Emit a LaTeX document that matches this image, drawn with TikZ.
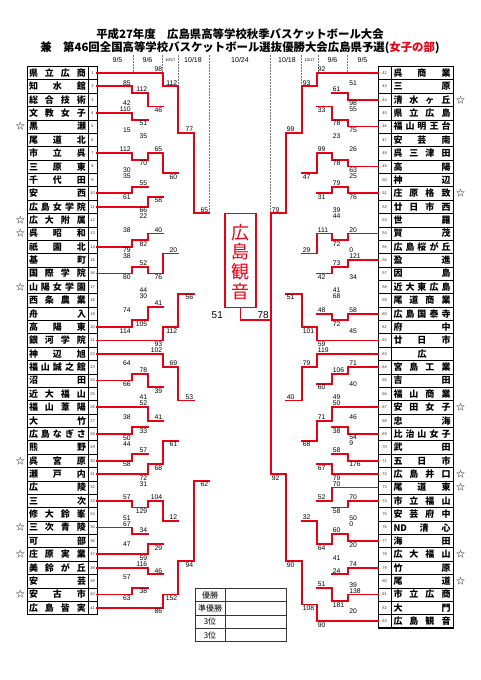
\documentclass[tikz,border=0pt]{standalone}
\usepackage{fontspec}
\setmainfont{Liberation Sans}
\newfontfamily\jp{Noto Sans CJK JP}
\definecolor{bred}{RGB}{232,0,20}
\definecolor{lgray}{RGB}{120,120,120}
\pgfdeclarelayer{bg}
\pgfsetlayers{bg,main}
\newif\ifleft
\def\Yr#1{(73+13.37*((#1)-1))}
\def\Xc#1{\ifleft\ifcase#1 97\or131.7\or148.3\or163.3\or178.3\or194.3\or209.3\fi\else\ifcase#1 378\or348.3\or331.7\or316.7\or301.7\or285.7\or270.7\fi\fi}
\def\winname{win}
\def\gp{\hfill}
\newcounter{lab}
\newcommand\seg[5]{\ifx#1\winname\draw[win] ({#2},{#3}) -- ({#4},{#5});\else\begin{pgfonlayer}{bg}\draw[lose] ({#2},{#3}) -- ({#4},{#5});\end{pgfonlayer}\fi}
\newcommand\M[9]{%
 \edef\xj{\Xc{#1}}\edef\xt{\Xc{#2}}\edef\xb{\Xc{#4}}%
 \pgfmathsetmacro\yt{73+13.37*(#3-1)}%
 \pgfmathsetmacro\yb{73+13.37*(#5-1)}%
 \pgfmathsetmacro\yo{73+13.37*(#6-1)}%
 \ifnum#2=0 \ifnum#7=1 \def\tst{win}\else\def\tst{lose}\fi\else\def\tst{win}\fi
 \ifnum#4=0 \ifnum#7=2 \def\bst{win}\else\def\bst{lose}\fi\else\def\bst{win}\fi
 \ifcase#7 \def\vts{lose}\def\vbs{lose}\or\def\vts{win}\def\vbs{lose}\or\def\vts{lose}\def\vbs{win}\or\def\vts{win}\def\vbs{win}\fi
 \seg\tst{\xt}{\yt}{\xj}{\yt}%
 \seg\bst{\xb}{\yb}{\xj}{\yb}%
 \seg\vts{\xj}{\yt}{\xj}{\yo}%
 \seg\vbs{\xj}{\yo}{\xj}{\yb}%
 \stepcounter{lab}%
 \ifleft
  \node[sc,anchor=south east] (s\arabic{lab}) at ({\xj-0.9},{\yt-1.1}) {#8};%
  \stepcounter{lab}%
  \node[sc,anchor=north east] (s\arabic{lab}) at ({\xj-0.9},{\yb+1.1}) {#9};%
 \else
  \node[sc,anchor=south west] (s\arabic{lab}) at ({\xj+0.9},{\yt-1.1}) {#8};%
  \stepcounter{lab}%
  \node[sc,anchor=north west] (s\arabic{lab}) at ({\xj+0.9},{\yb+1.1}) {#9};%
 \fi}
\begin{document}
\begin{tikzpicture}[x=1pt,y=-1pt,
  win/.style={draw=bred,line width=1.8pt,line cap=rect},
  lose/.style={draw=lgray,line width=0.8pt},
  sc/.style={font=\fontsize{6.8}{6.8}\selectfont,inner sep=0pt},
  dsh/.style={draw=lgray,line width=0.6pt,dash pattern=on 1.6pt off 1.4pt},
  nm/.style={font=\jp\bfseries\fontsize{9}{9}\selectfont,inner sep=0pt},
  num/.style={font=\fontsize{4}{4}\selectfont,inner sep=0pt,text=black!80},
  rowln/.style={draw=black,line width=0.5pt},
  st/.style={font=\jp\fontsize{9}{9}\selectfont,inner sep=0pt},
  dt/.style={font=\fontsize{7}{7}\selectfont,inner sep=0pt},
  dts/.style={font=\fontsize{4}{4}\selectfont,inner sep=0pt},
  ttl/.style={font=\jp\bfseries\fontsize{11.4}{12}\selectfont,inner sep=0pt}]
\useasboundingbox (0,0) rectangle (481,680);
\fill[white] (0,0) rectangle (481,680);
% titles
\node[ttl] (t1) at (240,34) {平成27年度　広島県高等学校秋季バスケットボール大会};
\node[ttl] (t2) at (240,48) {兼　第46回全国高等学校バスケットボール選抜優勝大会広島県予選(\textcolor{bred}{女子の部})};
% dates
\node[dt] (d1) at (117.5,60) {9/5};
\node[dt] (d2) at (147.5,60) {9/6};
\node[dts] (d3) at (170.3,60) {10/17};
\node[dt] (d4) at (193,60) {10/18};
\node[dt] (d5) at (240,60) {10/24};
\node[dt] (d6) at (287,60) {10/18};
\node[dts] (d7) at (309.7,60) {10/17};
\node[dt] (d8) at (332.5,60) {9/6};
\node[dt] (d9) at (362.5,60) {9/5};
\draw[dsh] (133,55) -- (133,{\Yr{1}});
\draw[dsh] (162,55) -- (162,{\Yr{1}});
\draw[dsh] (178.5,55) -- (178.5,{\Yr{2}});
\draw[dsh] (209.5,55) -- (209.5,{\Yr{11.5}});
\draw[dsh] (347,55) -- (347,{\Yr{1}});
\draw[dsh] (318,55) -- (318,{\Yr{1}});
\draw[dsh] (301.5,55) -- (301.5,{\Yr{2}});
\draw[dsh] (270.5,55) -- (270.5,{\Yr{11.5}});
% left team list
\foreach \nmx [count=\k] in {{県\gp 立\gp 広\gp 商},{知\gp 水\gp 館},{総\gp 合\gp 技\gp 術},{文\gp 教\gp 女\gp 子},{黒\gp 瀬},{尾\gp 道\gp 北},{市\gp 立\gp 呉},{三\gp 原\gp 東},{千\gp 代\gp 田},{安\gp 西},{広\gp 島\gp 女\gp 学\gp 院},{広\gp 大\gp 附\gp 属},{呉\gp 昭\gp 和},{祇\gp 園\gp 北},{基\gp 町},{国\gp 際\gp 学\gp 院},{山\gp 陽\gp 女\gp 学\gp 園},{西\gp 条\gp 農\gp 業},{舟\gp 入},{高\gp 陽\gp 東},{銀\gp 河\gp 学\gp 院},{神\gp 辺\gp 旭},{福\gp 山\gp 誠\gp 之\gp 館},{沼\gp 田},{近\gp 大\gp 福\gp 山},{福\gp 山\gp 葦\gp 陽},{大\gp 竹},{広\gp 島\gp な\gp ぎ\gp さ},{熊\gp 野},{呉\gp 宮\gp 原},{瀬\gp 戸\gp 内},{広\gp 陵},{三\gp 次},{修\gp 大\gp 鈴\gp 峯},{三\gp 次\gp 青\gp 陵},{可\gp 部},{庄\gp 原\gp 実\gp 業},{美\gp 鈴\gp が\gp 丘},{安\gp 芸},{安\gp 古\gp 市},{広\gp 島\gp 皆\gp 実}}{
  \draw[rowln] (27,{\Yr{\k}-6.685}) rectangle (97,{\Yr{\k}+6.685});
  \draw[rowln] (88,{\Yr{\k}-6.685}) -- (88,{\Yr{\k}+6.685});
  \node[nm] (L\k) at (57.5,{\Yr{\k}}) {\hbox to 57pt{\nmx}};
  \node[num] (LN\k) at (92.5,{\Yr{\k}}) {\k};
}
\draw[draw=black,line width=0.9pt] (27,{\Yr{1}-6.685}) rectangle (97,{\Yr{41}+6.685});
% right team list
\foreach \nmx [count=\k, evaluate=\k as \jj using int(\k+41)] in {{呉\gp 商\gp 業},{三\gp 原},{清\gp 水\gp ヶ\gp 丘},{県\gp 立\gp 広\gp 島},{福\gp 山\gp 明\gp 王\gp 台},{安\gp 芸\gp 南},{呉\gp 三\gp 津\gp 田},{高\gp 陽},{神\gp 辺},{庄\gp 原\gp 格\gp 致},{廿\gp 日\gp 市\gp 西},{世\gp 羅},{賀\gp 茂},{広\gp 島\gp 桜\gp が\gp 丘},{盈\gp 進},{因\gp 島},{近\gp 大\gp 東\gp 広\gp 島},{尾\gp 道\gp 商\gp 業},{広\gp 島\gp 国\gp 泰\gp 寺},{府\gp 中},{廿\gp 日\gp 市},{\hfil 広\hfil},{宮\gp 島\gp 工\gp 業},{吉\gp 田},{福\gp 山\gp 商\gp 業},{安\gp 田\gp 女\gp 子},{忠\gp 海},{比\gp 治\gp 山\gp 女\gp 子},{武\gp 田},{五\gp 日\gp 市},{広\gp 島\gp 井\gp 口},{尾\gp 道\gp 東},{市\gp 立\gp 福\gp 山},{安\gp 芸\gp 府\gp 中},{ND\gp 清\gp 心},{海\gp 田},{広\gp 大\gp 福\gp 山},{竹\gp 原},{尾\gp 道},{市\gp 立\gp 広\gp 商},{大\gp 門},{広\gp 島\gp 観\gp 音}}{
  \draw[rowln] (378,{\Yr{\k}-6.685}) rectangle (453,{\Yr{\k}+6.685});
  \draw[rowln] (391,{\Yr{\k}-6.685}) -- (391,{\Yr{\k}+6.685});
  \node[nm] (R\k) at (422,{\Yr{\k}}) {\hbox to 57pt{\nmx}};
  \node[num] (RN\k) at (384.5,{\Yr{\k}}) {\jj};
}
\draw[draw=black,line width=0.9pt] (378,{\Yr{1}-6.685}) rectangle (453,{\Yr{42}+6.685});
% stars
\foreach \k in {5,12,13,17,30,35,37,40} \node[st] (SL\k) at (20.5,{\Yr{\k}}) {☆};
\foreach \k in {3,10,26,31,32,37,39} \node[st] (SR\k) at (460.5,{\Yr{\k}}) {☆};
% left bracket
\lefttrue
\M{1}{0}{2}{0}{3}{2.5}{1}{85}{42}
\M{1}{0}{4}{0}{5}{4.5}{1}{110}{15}
\M{2}{1}{2.5}{1}{4.5}{3.5}{1}{112}{51}
\M{3}{0}{1}{2}{3.5}{2}{1}{98}{46}
\M{1}{0}{7}{0}{8}{7.5}{1}{112}{30}
\M{2}{0}{6}{1}{7.5}{7}{2}{35}{70}
\M{1}{0}{9}{0}{10}{9.5}{2}{35}{61}
\M{2}{1}{9.5}{0}{11}{10.25}{2}{55}{66}
\M{3}{2}{7}{2}{10.25}{8.5}{1}{65}{58}
\M{4}{3}{2}{3}{8.5}{5.5}{1}{112}{60}
\M{1}{0}{13}{0}{14}{13.5}{2}{38}{79}
\M{2}{0}{12}{1}{13.5}{13}{2}{22}{82}
\M{1}{0}{15}{0}{16}{15.5}{2}{38}{80}
\M{2}{1}{15.5}{0}{17}{16}{1}{52}{44}
\M{3}{2}{13}{2}{16}{14.5}{2}{40}{76}
\M{1}{0}{19}{0}{20}{19.5}{2}{74}{114}
\M{2}{0}{18}{1}{19.5}{18.5}{2}{30}{105}
\M{3}{2}{18.5}{0}{21}{20}{2}{41}{93}
\M{4}{3}{14.5}{3}{20}{17.5}{2}{20}{112}
\M{5}{4}{5.5}{4}{17.5}{11.5}{1}{77}{56}
\M{1}{0}{23}{0}{24}{23.5}{2}{64}{66}
\M{2}{1}{23.5}{0}{25}{24.5}{1}{78}{41}
\M{3}{0}{22}{2}{24.5}{23}{1}{102}{39}
\M{1}{0}{27}{0}{28}{27.5}{2}{38}{50}
\M{2}{0}{26}{1}{27.5}{27}{1}{52}{33}
\M{1}{0}{29}{0}{30}{29.5}{2}{44}{58}
\M{2}{1}{29.5}{0}{31}{30.25}{2}{57}{72}
\M{3}{2}{27}{2}{30.25}{28.5}{2}{41}{68}
\M{4}{3}{23}{3}{28.5}{25.5}{1}{69}{61}
\M{1}{0}{33}{0}{34}{33.5}{1}{57}{51}
\M{2}{0}{32}{1}{33.5}{33}{2}{31}{129}
\M{1}{0}{35}{0}{36}{35.5}{1}{67}{47}
\M{2}{1}{35.5}{0}{37}{36.25}{2}{34}{59}
\M{3}{2}{33}{2}{36.25}{34.5}{1}{104}{29}
\M{1}{0}{39}{0}{40}{39.5}{2}{57}{63}
\M{2}{0}{38}{1}{39.5}{38.5}{1}{116}{38}
\M{3}{2}{38.5}{0}{41}{40}{2}{46}{86}
\M{4}{3}{34.5}{3}{40}{37.5}{2}{12}{152}
\M{5}{4}{25.5}{4}{37.5}{31.5}{2}{53}{94}
\M{6}{5}{11.5}{5}{31.5}{19.5}{0}{65}{62}
% right bracket
\leftfalse
\M{1}{0}{2}{0}{3}{2.5}{2}{51}{98}
\M{1}{0}{4}{0}{5}{4.5}{2}{55}{75}
\M{2}{1}{2.5}{1}{4.5}{3.5}{2}{61}{78}
\M{3}{0}{1}{2}{3.5}{2}{1}{92}{33}
\M{1}{0}{7}{0}{8}{7.5}{2}{26}{63}
\M{2}{0}{6}{1}{7.5}{7}{2}{23}{78}
\M{1}{0}{9}{0}{10}{9.5}{2}{25}{76}
\M{2}{1}{9.5}{0}{11}{10}{1}{79}{39}
\M{3}{2}{7}{2}{10}{8.5}{1}{99}{31}
\M{4}{3}{2}{3}{8.5}{5.5}{1}{93}{47}
\M{1}{0}{13}{0}{14}{13.5}{1}{20}{0}
\M{2}{0}{12}{1}{13.5}{13}{2}{44}{72}
\M{1}{0}{15}{0}{16}{15.5}{1}{121}{34}
\M{2}{1}{15.5}{0}{17}{16}{1}{73}{41}
\M{3}{2}{13}{2}{16}{14.5}{1}{111}{42}
\M{1}{0}{19}{0}{20}{19.5}{1}{58}{45}
\M{2}{0}{18}{1}{19.5}{19}{2}{68}{72}
\M{3}{2}{19}{0}{21}{20}{2}{48}{59}
\M{4}{3}{14.5}{3}{20}{17.5}{2}{29}{101}
\M{5}{4}{5.5}{4}{17.5}{11.5}{1}{99}{51}
\M{1}{0}{23}{0}{24}{23.5}{1}{71}{40}
\M{2}{1}{23.5}{0}{25}{24.25}{1}{106}{49}
\M{3}{0}{22}{2}{24.25}{23}{1}{119}{60}
\M{1}{0}{27}{0}{28}{27.5}{2}{46}{54}
\M{2}{0}{26}{1}{27.5}{27}{1}{50}{38}
\M{1}{0}{29}{0}{30}{29.5}{2}{9}{176}
\M{2}{1}{29.5}{0}{31}{30.25}{2}{58}{79}
\M{3}{2}{27}{2}{30.25}{28.5}{1}{71}{67}
\M{4}{3}{23}{3}{28.5}{25.5}{1}{79}{68}
\M{1}{0}{33}{0}{34}{33.5}{1}{70}{50}
\M{2}{0}{32}{1}{33.5}{33}{1}{70}{58}
\M{1}{0}{35}{0}{36}{35.5}{2}{0}{20}
\M{2}{1}{35.5}{0}{37}{36.25}{1}{60}{41}
\M{3}{2}{33}{2}{36.25}{34.5}{2}{52}{64}
\M{1}{0}{38}{0}{39}{38.5}{1}{74}{39}
\M{1}{0}{40}{0}{41}{40.5}{1}{138}{20}
\M{2}{1}{38.5}{1}{40.5}{39.5}{2}{24}{181}
\M{3}{2}{39.5}{0}{42}{40.75}{2}{51}{90}
\M{4}{3}{34.5}{3}{40.75}{37.5}{2}{32}{108}
\M{5}{4}{25.5}{4}{37.5}{31}{2}{40}{90}
\M{6}{5}{11.5}{5}{31}{19.5}{3}{79}{92}
% final
\node[draw=bred,line width=1.8pt,fill=white,minimum width=31pt,minimum height=94pt,inner sep=0pt] (champ) at (240.5,260.5) {};
\node[font=\jp\fontsize{18}{19.7}\selectfont,text=bred,align=center,inner sep=0pt] (champtxt) at (240.5,262) {広\\島\\観\\音};
\coordinate (fl) at (209.3,{\Yr{19.5}});
\coordinate (fc) at (240.5,{\Yr{19.5}});
\coordinate (fr) at (270.7,{\Yr{19.5}});
\begin{pgfonlayer}{bg}\draw[lose] (fl) -- (fc);\end{pgfonlayer}
\draw[win] (fc) -- (fr);
\draw[win] (champ.south) -- (fc);
\node[font=\fontsize{10}{10}\selectfont,inner sep=0pt,anchor=south west] (fs1) at (211.5,318.3) {51};
\node[font=\fontsize{10}{10}\selectfont,inner sep=0pt,anchor=south east] (fs2) at (269,318.3) {78};
% table
\draw[draw=black!80,line width=0.5pt] (195,588.3) rectangle (286,641.7);
\foreach \yy in {601.7,615,628.3} \draw[draw=black!80,line width=0.5pt] (195,\yy) -- (286,\yy);
\draw[draw=black!80,line width=0.5pt] (225,588.3) -- (225,641.7);
\node[font=\jp\fontsize{8}{8}\selectfont,inner sep=0pt] (tb1) at (210,595) {優勝};
\node[font=\jp\fontsize{8}{8}\selectfont,inner sep=0pt] (tb2) at (210,608.3) {準優勝};
\node[font=\jp\fontsize{8}{8}\selectfont,inner sep=0pt] (tb3) at (210,621.7) {3位};
\node[font=\jp\fontsize{8}{8}\selectfont,inner sep=0pt] (tb4) at (210,635) {3位};
\end{tikzpicture}
\end{document}
